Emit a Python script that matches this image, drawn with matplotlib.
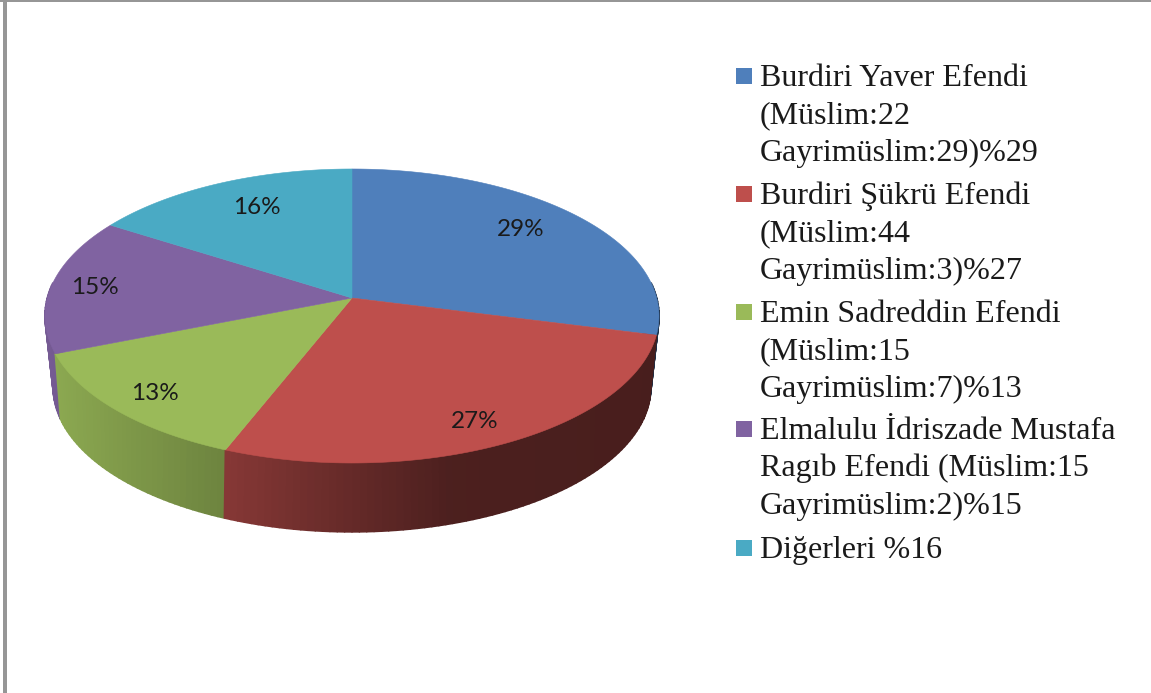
import numpy as np
import matplotlib
matplotlib.use("Agg")
import matplotlib.pyplot as plt
from matplotlib.collections import PolyCollection
from matplotlib.colors import to_rgb
from matplotlib.patches import Rectangle

names = [
    ["Burdiri Yaver Efendi", "(Müslim:22", "Gayrimüslim:29)%29"],
    ["Burdiri Şükrü Efendi", "(Müslim:44", "Gayrimüslim:3)%27"],
    ["Emin Sadreddin Efendi", "(Müslim:15", "Gayrimüslim:7)%13"],
    ["Elmalulu İdriszade Mustafa", "Ragıb Efendi (Müslim:15", "Gayrimüslim:2)%15"],
    ["Diğerleri %16"],
]
values = [29, 27, 13, 15, 16]
colors = ["#4f7fbb", "#be4f4c", "#9aba59", "#8063a1", "#4aaac4"]

label_pos = [(521, 230), (475, 422), (155, 394), (95, 287), (257, 207)]
legend_baselines = [86, 204, 322, 439, 558]
LINE_STEP = 37.3


def project(theta, cx, cy, a, b, k):
    # perspective view of the unit disc, theta runs clockwise from the top
    u = np.sin(theta)
    v = np.cos(theta)
    w = 1 + k * v
    return cx + a * u / w, cy - b * v / w


def top_edge(theta):
    return project(theta, 352, 298, 304.7, 144.8, 0.1224)


def bottom_edge(theta):
    return project(theta, 352, 364, 295, 141, 0.16)


def wall_shade(x):
    return np.interp(x, [45, 60, 225, 352, 450, 660], [0.92, 0.9, 0.71, 0.53, 0.4, 0.38])


def draw_pie(ax):
    edges = np.concatenate([[0], np.cumsum(values)]) / sum(values) * 2 * np.pi

    quads = []
    quad_colors = []
    order = []
    for i, color in enumerate(colors):
        n = max(int(values[i] * 3), 2)
        th = np.linspace(edges[i], edges[i + 1], n + 1)
        for t0, t1 in zip(th[:-1], th[1:]):
            # back of the wall is hidden by the top face
            if np.cos((t0 + t1) / 2) > 0.1:
                continue
            x0, y0 = top_edge(t0)
            x1, y1 = top_edge(t1)
            x2, y2 = bottom_edge(t1)
            x3, y3 = bottom_edge(t0)
            quads.append([(x0, y0), (x1, y1), (x2, y2), (x3, y3)])
            quad_colors.append(np.array(to_rgb(color)) * wall_shade((x0 + x1) / 2))
            order.append(np.cos((t0 + t1) / 2))

    # far side first so the front of the wall stays on top
    idx = np.argsort(order)[::-1]
    walls = PolyCollection(
        [quads[i] for i in idx],
        facecolors=[quad_colors[i] for i in idx],
        edgecolors=[quad_colors[i] for i in idx],
        linewidths=1.2,
    )
    ax.add_collection(walls)

    for i, color in enumerate(colors):
        th = np.linspace(edges[i], edges[i + 1], 200)
        x, y = top_edge(th)
        ax.fill(np.r_[352, x], np.r_[298, y], color=color, lw=0.4)


fig = plt.figure(figsize=(11.51, 6.93), dpi=100)
ax = fig.add_axes([0, 0, 1, 1])
ax.set_xlim(0, 1151)
ax.set_ylim(693, 0)
ax.axis("off")

draw_pie(ax)

for value, (x, y) in zip(values, label_pos):
    ax.text(x, y, f"{value}%", ha="center", va="center", family="Lato", fontsize=17.5, color="#1a1a1a")

for lines, base, color in zip(names, legend_baselines, colors):
    ax.add_patch(Rectangle((736.5, base - 18), 16, 16, facecolor=color, edgecolor="none"))
    for j, line in enumerate(lines):
        ax.text(760, base + j * LINE_STEP, line, ha="left", va="baseline",
                family="Liberation Serif", fontsize=23, color="#1a1a1a")

# frame of the original screenshot
ax.add_patch(Rectangle((0, 0), 1151, 2, facecolor="#969696", edgecolor="none"))
ax.add_patch(Rectangle((3.5, 0), 3.5, 693, facecolor="#969696", edgecolor="none"))

fig.savefig("out.png", dpi=100)
